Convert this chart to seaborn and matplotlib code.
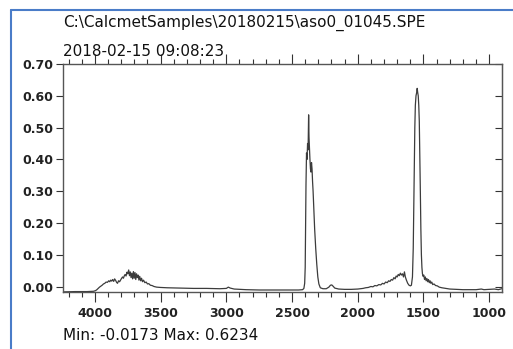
import matplotlib
matplotlib.use("Agg")
import matplotlib.pyplot as plt
from matplotlib.lines import Line2D
from matplotlib.ticker import MultipleLocator, FormatStrFormatter
import seaborn as sns
import pandas as pd

# Spectrum (wavenumber, absorbance)
wavenumber = [
    4245, 4150, 4060, 4010,
    3995, 3985, 3975, 3965, 3955, 3945, 3935, 3925, 3915, 3905, 3895, 3887,
    3880, 3872, 3865, 3857, 3850, 3842, 3835, 3828, 3820, 3812, 3805, 3798,
    3790, 3783, 3776, 3770, 3763, 3756, 3750, 3743, 3737, 3731, 3725, 3719,
    3713, 3707, 3701, 3695, 3689, 3683, 3677, 3671, 3665, 3659, 3652, 3645,
    3638, 3630, 3620, 3610, 3600, 3590, 3578, 3565, 3550, 3530, 3500,
    3450, 3350, 3250, 3150, 3050, 3000, 2985, 2970, 2940, 2850, 2750, 2650,
    2550, 2450, 2420,
    2410, 2404, 2400, 2397, 2394, 2390, 2386, 2382, 2378, 2374, 2371, 2368,
    2364, 2360, 2356, 2352, 2348, 2344, 2340, 2334, 2328, 2320, 2312, 2304,
    2296, 2285, 2265, 2240, 2220, 2208, 2198, 2188, 2175, 2145, 2100, 2050,
    2000, 1960, 1940, 1920, 1900, 1885, 1870, 1855, 1840, 1825, 1812, 1800,
    1788, 1776, 1765, 1755, 1745, 1735, 1725, 1716, 1708, 1700, 1692, 1684,
    1676, 1668, 1660, 1652, 1645, 1638, 1630, 1620, 1610, 1600, 1592, 1584,
    1578, 1574, 1570, 1566, 1562, 1557, 1552, 1548, 1544, 1540, 1536, 1532,
    1528, 1524, 1520, 1516, 1512, 1508, 1503, 1498, 1492, 1486, 1480, 1474,
    1468, 1462, 1456, 1450, 1444, 1437, 1430, 1420, 1408, 1395, 1380, 1360,
    1330, 1300, 1250, 1200, 1150, 1100, 1060, 1040, 1000, 960, 930, 905,
]
absorbance = [
    -0.017, -0.016, -0.016, -0.015,
    -0.013, -0.010, -0.006, -0.002, 0.001, 0.004, 0.008, 0.010, 0.014, 0.013, 0.018, 0.015,
    0.020, 0.017, 0.022, 0.016, 0.024, 0.019, 0.013, 0.010, 0.018, 0.015, 0.020, 0.025,
    0.030, 0.026, 0.034, 0.038, 0.033, 0.045, 0.040, 0.052, 0.034, 0.046, 0.028, 0.042,
    0.024, 0.047, 0.026, 0.044, 0.022, 0.040, 0.028, 0.036, 0.020, 0.032, 0.018, 0.026,
    0.015, 0.020, 0.012, 0.014, 0.008, 0.009, 0.004, 0.003, 0.000, -0.002, -0.003,
    -0.004, -0.005, -0.006, -0.006, -0.007, -0.006, -0.002, -0.005, -0.008, -0.010, -0.011, -0.011,
    -0.011, -0.011, -0.010,
    -0.006, 0.010, 0.060, 0.180, 0.320, 0.420, 0.400, 0.450, 0.430, 0.540, 0.470, 0.440,
    0.400, 0.370, 0.360, 0.390, 0.370, 0.330, 0.300, 0.240, 0.180, 0.120, 0.070, 0.030,
    0.008, -0.004, -0.007, -0.007, -0.002, 0.004, 0.005, 0.001, -0.005, -0.008, -0.009, -0.009,
    -0.008, -0.006, -0.004, -0.003, 0.000, -0.001, 0.003, 0.002, 0.006, 0.005, 0.010, 0.008,
    0.014, 0.012, 0.018, 0.016, 0.022, 0.020, 0.028, 0.024, 0.033, 0.030, 0.038, 0.034,
    0.042, 0.036, 0.040, 0.030, 0.046, 0.030, 0.020, 0.010, 0.004, 0.002, 0.004, 0.030,
    0.120, 0.250, 0.380, 0.500, 0.570, 0.600, 0.610, 0.6234, 0.610, 0.600, 0.570, 0.520,
    0.420, 0.300, 0.180, 0.100, 0.060, 0.040, 0.032, 0.036, 0.022, 0.030, 0.018, 0.025,
    0.015, 0.022, 0.012, 0.018, 0.010, 0.014, 0.006, 0.008, 0.003, 0.002, -0.002, -0.004,
    -0.006, -0.008, -0.009, -0.010, -0.010, -0.010, -0.008, -0.010, -0.009, -0.008, -0.010, -0.007,
]

title_path = "C:\\CalcmetSamples\\20180215\\aso0_01045.SPE"
title_time = "2018-02-15 09:08:23"
footer = "Min: -0.0173 Max: 0.6234"

df = pd.DataFrame({"wn": wavenumber, "abs": absorbance})

sns.set_style("white")
plt.rcParams["font.family"] = ["DejaVu Sans"]

fig = plt.figure(figsize=(5.13, 3.49), dpi=100)
ax = fig.add_axes([62.7 / 513, 1 - 292 / 349, (501.7 - 62.7) / 513, (292 - 64) / 349])

sns.lineplot(data=df, x="wn", y="abs", sort=False, color="#3c3c3c", linewidth=0.9, ax=ax)

ax.set_xlim(4245, 905)
ax.set_ylim(-0.0173, 0.70)
ax.set_xlabel("")
ax.set_ylabel("")

ax.xaxis.set_major_locator(MultipleLocator(500))
ax.xaxis.set_minor_locator(MultipleLocator(100))
ax.yaxis.set_major_locator(MultipleLocator(0.1))
ax.yaxis.set_major_formatter(FormatStrFormatter("%.2f"))

ax.tick_params(axis="x", which="major", direction="out", length=7.5, width=0.8,
               top=True, bottom=True, pad=3, labelsize=9, colors="#333333")
ax.tick_params(axis="x", which="minor", direction="out", length=3.8, width=0.8,
               top=True, bottom=True, colors="#333333")
ax.tick_params(axis="y", which="major", direction="out", length=5, width=0.8,
               left=True, right=False, pad=1.5, labelsize=9, colors="#333333")
for lbl in ax.get_xticklabels() + ax.get_yticklabels():
    lbl.set_fontweight("bold")
    lbl.set_color("#222222")

# right side ticks point inward
sec = ax.secondary_yaxis("right")
sec.yaxis.set_major_locator(MultipleLocator(0.1))
sec.tick_params(direction="in", length=5, width=0.8, colors="#333333", labelright=False)
sec.spines["right"].set_color("#555555")

for s in ax.spines.values():
    s.set_color("#555555")
    s.set_linewidth(1.0)

fig.text(63 / 513, 1 - 23 / 349, title_path, fontsize=11, va="center", ha="left", color="#111111")
fig.text(63 / 513, 1 - 52 / 349, title_time, fontsize=11, va="center", ha="left", color="#111111")
fig.text(63 / 513, 1 - 336 / 349, footer, fontsize=11, va="center", ha="left", color="#111111")

# blue window frame
fig.add_artist(Line2D([11 / 513, 11 / 513], [0, 1 - 10 / 349], color="#4a7cc8", linewidth=1.5))
fig.add_artist(Line2D([11 / 513, 1], [1 - 10 / 349, 1 - 10 / 349], color="#4a7cc8", linewidth=1.5))

fig.savefig("out.png", dpi=100)
